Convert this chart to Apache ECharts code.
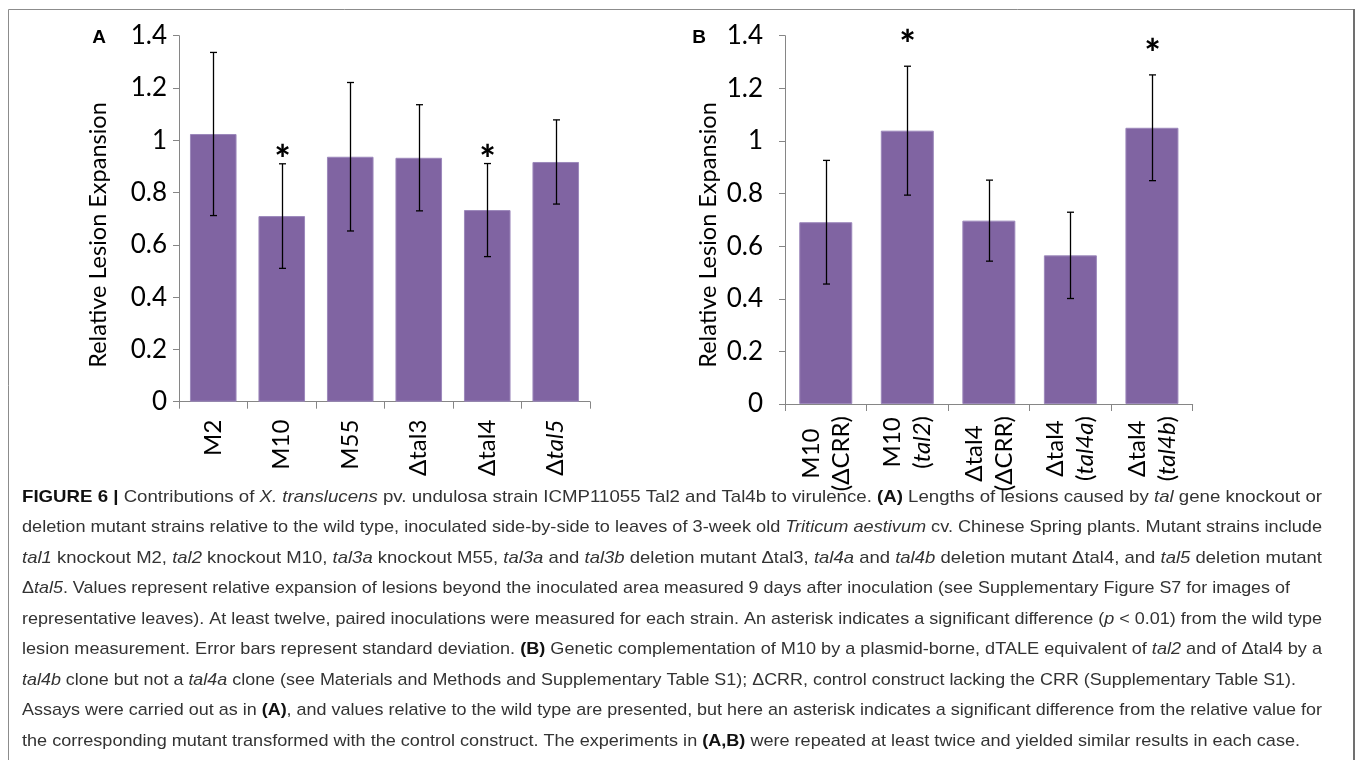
<!DOCTYPE html>
<html>
<head>
<meta charset="utf-8">
<script src="https://cdn.jsdelivr.net/npm/echarts@6/dist/echarts.min.js"></script>
<style>
html,body{margin:0;padding:0;background:#fff;}
#c{width:1358px;height:760px;}
</style>
</head>
<body>
<div id="c"></div>
<script>
// ---------- data ----------
const catsA = ['M2', 'M10', 'M55', 'Δtal3', 'Δtal4', 'Δ_tal5_'];
const valuesA = [1.024, 0.710, 0.937, 0.933, 0.733, 0.917];
const errA = [0.312, 0.200, 0.284, 0.203, 0.178, 0.161];
const sigA = [0, 1, 0, 0, 1, 0];

const catsB = ['M10\n(ΔCRR)', 'M10\n(_tal2_)', 'Δtal4\n(ΔCRR)', 'Δtal4\n(_tal4a_)', 'Δtal4\n(_tal4b_)'];
const valuesB = [0.691, 1.039, 0.697, 0.565, 1.050];
const errB = [0.235, 0.245, 0.154, 0.164, 0.201];
const sigB = [0, 1, 0, 0, 1];

const yTicks = [0, 0.2, 0.4, 0.6, 0.8, 1, 1.2, 1.4];
const yTitle = 'Relative Lesion Expansion';

const captionLines = [
  '**FIGURE 6 |** Contributions of _X. translucens_ pv. undulosa strain ICMP11055 Tal2 and Tal4b to virulence. **(A)** Lengths of lesions caused by _tal_ gene knockout or',
  'deletion mutant strains relative to the wild type, inoculated side-by-side to leaves of 3-week old _Triticum aestivum_ cv. Chinese Spring plants. Mutant strains include',
  '_tal1_ knockout M2, _tal2_ knockout M10, _tal3a_ knockout M55, _tal3a_ and _tal3b_ deletion mutant Δtal3, _tal4a_ and _tal4b_ deletion mutant Δtal4, and _tal5_ deletion mutant',
  'Δ_tal5_. Values represent relative expansion of lesions beyond the inoculated area measured 9 days after inoculation (see Supplementary Figure S7 for images of',
  'representative leaves). At least twelve, paired inoculations were measured for each strain. An asterisk indicates a significant difference (_p_ < 0.01) from the wild type',
  'lesion measurement. Error bars represent standard deviation. **(B)** Genetic complementation of M10 by a plasmid-borne, dTALE equivalent of _tal2_ and of Δtal4 by a',
  '_tal4b_ clone but not a _tal4a_ clone (see Materials and Methods and Supplementary Table S1); ΔCRR, control construct lacking the CRR (Supplementary Table S1).',
  'Assays were carried out as in **(A)**, and values relative to the wild type are presented, but here an asterisk indicates a significant difference from the relative value for',
  'the corresponding mutant transformed with the control construct. The experiments in **(A,B)** were repeated at least twice and yielded similar results in each case.'
];
// layout: right end of each caption line in the reference (px)
const captionRightEnds = [1322, 1322, 1322, 1290, 1322, 1322, 1296, 1322, 1300];

// ---------- helpers ----------
function parseSegs(s) {
  const parts = s.split(/(\*\*[^*]+\*\*|_[^_]+_)/).filter(p => p.length);
  return parts.map(p => {
    if (p.startsWith('**')) return { t: p.slice(2, -2), k: 'b' };
    if (p.startsWith('_') && p.endsWith('_') && p.length > 1) return { t: p.slice(1, -1), k: 'i' };
    return { t: p, k: 'r' };
  });
}
function toRich(s) {
  return s.split('\n').map(line => parseSegs(line).map(g => '{' + (g.k === 'i' ? 'i' : 'n') + '|' + g.t + '}').join('')).join('\n');
}
const CAP_FONT = '"Liberation Sans", Arial, sans-serif';
const CAP_SIZE = 17;
function capFont(k, size) {
  return (k === 'i' ? 'italic ' : '') + (k === 'b' ? 'bold ' : '') + size + 'px ' + CAP_FONT;
}
const cv = document.createElement('canvas').getContext('2d');
function measure(line, size) {
  let w = 0;
  parseSegs(line).forEach(g => { cv.font = capFont(g.k, size); w += cv.measureText(g.t).width; });
  return w;
}
const capLeft = 22;

const AX = '#868686';
const LBL_FONT = 'Lato, "Open Sans", sans-serif';

function errRender(off) {
  return function (params, api) {
    const i = api.value(0), v = api.value(1), e = api.value(2), s = api.value(3);
    const t = api.coord([i, v + e]);
    const b = api.coord([i, v - e]);
    const x = Math.round(t[0]) + 0.5;
    const w = 3.5;
    const st = { stroke: '#000', lineWidth: 1.3 };
    const ch = [
      { type: 'line', shape: { x1: x, y1: t[1], x2: x, y2: b[1] }, style: st },
      { type: 'line', shape: { x1: x - w, y1: t[1], x2: x + w, y2: t[1] }, style: st },
      { type: 'line', shape: { x1: x - w, y1: b[1], x2: x + w, y2: b[1] }, style: st }
    ];
    if (s) {
      ch.push({ type: 'text', style: { text: '*', x: x, y: t[1] - off, align: 'center', verticalAlign: 'middle', font: '900 38px ' + LBL_FONT, fill: '#000' } });
    }
    return { type: 'group', children: ch };
  };
}

function yAxis(gi, margin) {
  return {
    type: 'value', gridIndex: gi, min: 0, max: 1.4, interval: 0.2,
    axisLine: { show: true, lineStyle: { color: AX, width: 1 } },
    axisTick: { show: true, length: 6, lineStyle: { color: AX } },
    splitLine: { show: false },
    axisLabel: { margin: margin, fontSize: 26, fontFamily: LBL_FONT, color: '#000',
      formatter: v => { const m = yTicks.find(t => Math.abs(t - v) < 1e-9); return m === undefined ? '' : String(m); } }
  };
}
function xAxis(gi, cats, margin, lh) {
  return {
    type: 'category', gridIndex: gi, data: cats,
    axisLine: { show: true, lineStyle: { color: AX, width: 1 } },
    axisTick: { show: true, length: 7, lineStyle: { color: AX } },
    axisLabel: {
      rotate: 90, margin: margin, interval: 0, color: '#000',
      fontSize: 24, fontFamily: LBL_FONT,
      formatter: v => toRich(v),
      rich: {
        n: { fontSize: 24, fontFamily: LBL_FONT, color: '#000', align: 'center', lineHeight: lh },
        i: { fontSize: 24, fontFamily: LBL_FONT, color: '#000', fontStyle: 'italic', align: 'center', lineHeight: lh }
      }
    }
  };
}

const capGraphics = captionLines.map((line, k) => ({
  type: 'text', x: capLeft, y: 497 + k * 30.5,
  scaleX: (captionRightEnds[k] - capLeft) / measure(line, CAP_SIZE),
  style: {
    text: parseSegs(line).map(g => '{' + g.k + '|' + g.t + '}').join(''),
    x: 0, y: 0, align: 'left', verticalAlign: 'middle',
    rich: {
      r: { font: capFont('r', CAP_SIZE), fill: '#333' },
      b: { font: capFont('b', CAP_SIZE), fill: '#111' },
      i: { font: capFont('i', CAP_SIZE), fill: '#333' }
    }
  }
}));

const chart = echarts.init(document.getElementById('c'), null, { renderer: 'canvas' });
chart.setOption({
  animation: false,
  backgroundColor: '#fff',
  grid: [
    { left: 179, top: 35.7, width: 411, height: 366, outerBoundsMode: 'none' },
    { left: 785, top: 35.7, width: 407.7, height: 368.3, outerBoundsMode: 'none' }
  ],
  xAxis: [xAxis(0, catsA, 18, 26), xAxis(1, catsB, 12, 30)],
  yAxis: [yAxis(0, 12), yAxis(1, 22)],
  series: [
    { type: 'bar', xAxisIndex: 0, yAxisIndex: 0, data: valuesA, barCategoryGap: '32%',
      itemStyle: { color: '#8064A2', borderColor: '#9c88bb', borderWidth: 1 } },
    { type: 'bar', xAxisIndex: 1, yAxisIndex: 1, data: valuesB, barCategoryGap: '35%',
      itemStyle: { color: '#8064A2', borderColor: '#9c88bb', borderWidth: 1 } },
    { type: 'custom', xAxisIndex: 0, yAxisIndex: 0, z: 5, renderItem: errRender(3),
      encode: { x: 0, y: 1 }, data: valuesA.map((v, i) => [i, v, errA[i], sigA[i]]) },
    { type: 'custom', xAxisIndex: 1, yAxisIndex: 1, z: 5, renderItem: errRender(20),
      encode: { x: 0, y: 1 }, data: valuesB.map((v, i) => [i, v, errB[i], sigB[i]]) }
  ],
  graphic: [
    { type: 'rect', shape: { x: 8.5, y: 9.5, width: 1345, height: 800 }, style: { fill: 'none', stroke: '#8c8c8c', lineWidth: 1 }, silent: true },
    { type: 'line', shape: { x1: 1354, y1: 9, x2: 1354, y2: 760 }, style: { stroke: '#707070', lineWidth: 2 }, silent: true },
    { type: 'text', x: 99, y: 38, style: { text: 'A', font: 'bold 19px "Liberation Sans", Arial, sans-serif', fill: '#000', align: 'center', verticalAlign: 'middle' } },
    { type: 'text', x: 699, y: 38, style: { text: 'B', font: 'bold 19px "Liberation Sans", Arial, sans-serif', fill: '#000', align: 'center', verticalAlign: 'middle' } },
    { type: 'text', x: 98, y: 235, rotation: Math.PI / 2, style: { text: yTitle, font: '23.5px ' + LBL_FONT, fill: '#000', align: 'center', verticalAlign: 'middle' } },
    { type: 'text', x: 708, y: 235, rotation: Math.PI / 2, style: { text: yTitle, font: '23.5px ' + LBL_FONT, fill: '#000', align: 'center', verticalAlign: 'middle' } }
  ].concat(capGraphics)
});
</script>
</body>
</html>
